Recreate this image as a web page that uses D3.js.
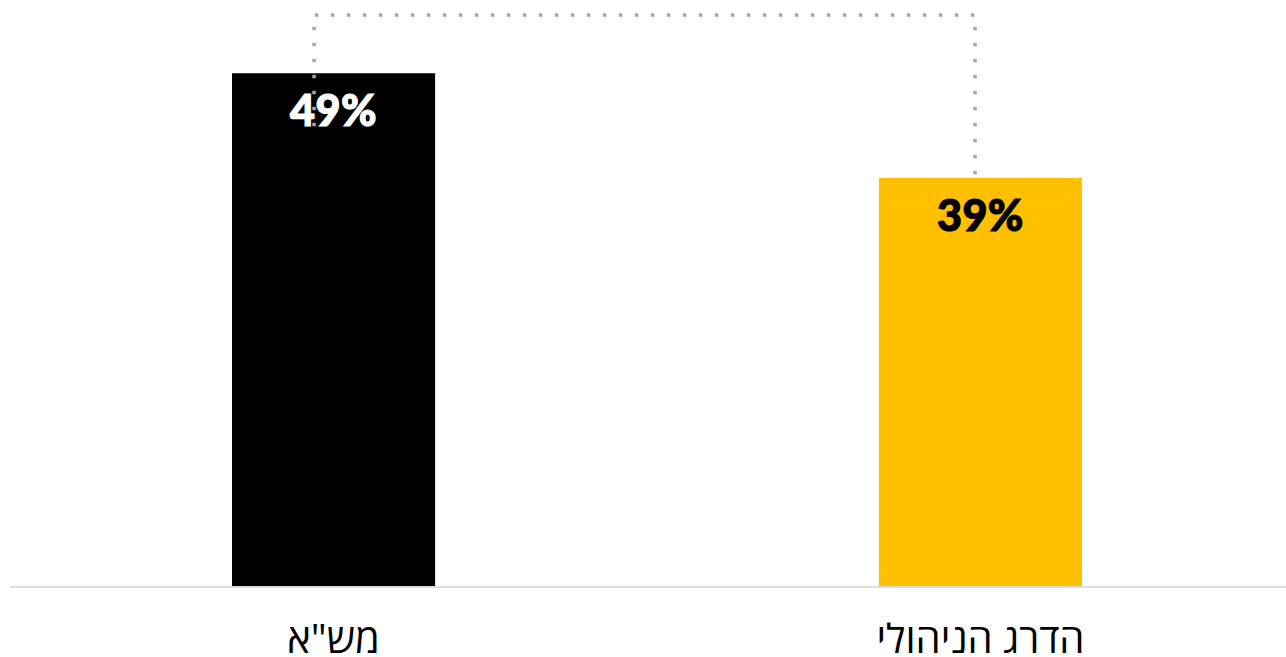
<!DOCTYPE html>
<html><head><meta charset="utf-8">
<script src="https://cdn.jsdelivr.net/npm/d3@7"></script>
<style>
html,body{margin:0;padding:0;background:#fff;overflow:hidden;}
svg{display:block;}
</style></head>
<body>
<script>
const categories = ['מש"א', 'הדרג הניהולי'];
const values = [49, 39];
const colors = ['#000000', '#FFC000'];
const labelColors = ['#ffffff', '#000000'];

const W = 1286, H = 657;
const svg = d3.select('body').append('svg').attr('width', W).attr('height', H);

const x = d3.scaleBand().domain(categories).range([232, 1082]).paddingInner(0.686).paddingOuter(0);
const y = d3.scaleLinear().domain([0, 56]).range([586, 0]);

// baseline
svg.append('line').attr('x1', 10).attr('x2', W).attr('y1', y(0) + 1).attr('y2', y(0) + 1)
  .attr('stroke', '#dddddd').attr('stroke-width', 2);

// bars
svg.selectAll('rect.bar').data(categories).join('rect').attr('class', 'bar')
  .attr('x', d => x(d)).attr('width', x.bandwidth())
  .attr('y', (d, i) => y(values[i])).attr('height', (d, i) => y(0) - y(values[i]))
  .attr('fill', (d, i) => colors[i]);

// value labels
svg.selectAll('text.val').data(categories).join('text').attr('class', 'val')
  .attr('x', d => x(d) + x.bandwidth() / 2)
  .attr('y', (d, i) => y(values[i]) + 53)
  .attr('text-anchor', 'middle')
  .attr('font-family', 'Lato, "Open Sans", sans-serif')
  .attr('font-weight', 900).attr('font-size', 43)
  .attr('letter-spacing', 0.5)
  .attr('stroke', (d, i) => labelColors[i]).attr('stroke-width', 1.2)
  .attr('fill', (d, i) => labelColors[i])
  .text((d, i) => values[i] + '%');

// bracket (drawn on top of labels)
const bx1 = x(categories[0]) + x.bandwidth() * 0.404;
const bx2 = x(categories[1]) + x.bandwidth() * 0.473;
const topY = 15;
const p = d3.path();
p.moveTo(bx1, y(values[0]) + 53);
p.lineTo(bx1, topY);
p.lineTo(bx2, topY);
p.lineTo(bx2, y(values[1]) - 3);
svg.append('path').attr('d', p.toString()).attr('fill', 'none')
  .attr('stroke', '#a8a8a8').attr('stroke-width', 3.5).attr('stroke-dasharray', '3.5,12.5');

// category labels
svg.selectAll('text.cat').data(categories).join('text').attr('class', 'cat')
  .attr('x', d => x(d) + x.bandwidth() / 2)
  .attr('y', 653)
  .attr('text-anchor', 'middle')
  .attr('direction', 'rtl')
  .attr('font-family', '"Open Sans", "Noto Sans", sans-serif')
  .attr('font-size', 40).attr('fill', '#000')
  .text(d => d);
</script>
</body></html>
